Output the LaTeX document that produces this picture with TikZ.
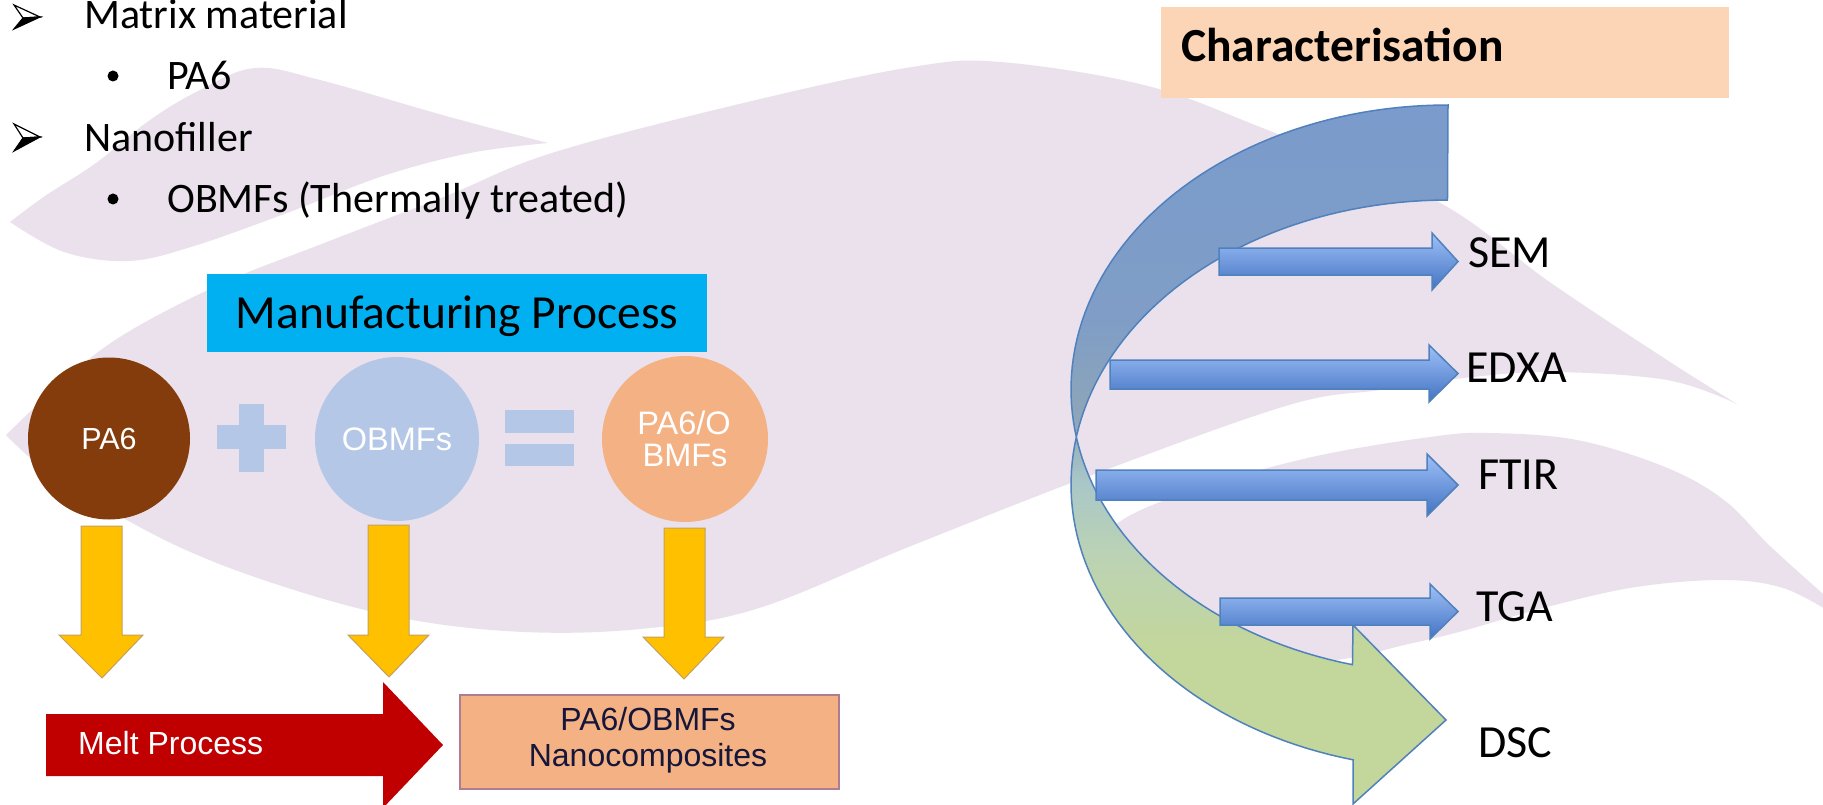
\documentclass[tikz,border=0pt]{standalone}
\usepackage{fontspec}
\setmainfont{Carlito}
\newfontfamily\arialfont{Liberation Sans}
\definecolor{lav}{RGB}{234,225,236}
\definecolor{mpcyan}{HTML}{00B0F0}
\definecolor{peach}{HTML}{FBD5B5}
\definecolor{pabrown}{HTML}{843C0C}
\definecolor{lblue}{HTML}{B4C7E7}
\definecolor{lorange}{HTML}{F4B183}
\definecolor{ayellow}{HTML}{FFC000}
\definecolor{ayline}{RGB}{195,160,95}
\definecolor{ared}{HTML}{C00000}
\definecolor{ncline}{RGB}{175,125,145}
\definecolor{nctext}{RGB}{22,22,58}
\definecolor{bline}{HTML}{4F81BD}
\definecolor{btop}{HTML}{9EC0F8}
\definecolor{bbot}{HTML}{4373C2}
\definecolor{cblue}{HTML}{7A9BCC}
\definecolor{cblueb}{HTML}{7F9DC6}
\definecolor{cgray}{HTML}{8EA6B9}
\definecolor{cmida}{HTML}{A9C7C8}
\definecolor{cmidb}{HTML}{BCD3B3}
\definecolor{cgreen}{HTML}{C3D69B}
\pgfdeclareverticalshading{charshade}{100bp}{color(0bp)=(cgreen); color(36bp)=(cgreen); color(42.5bp)=(cmidb); color(48bp)=(cmida); color(52.5bp)=(cgray); color(60bp)=(cblueb); color(75bp)=(cblue); color(100bp)=(cblue)}
\begin{document}
\begin{tikzpicture}[x=1pt,y=-1pt,
  bgshape/.style={fill=lav, draw=none},
  bultext/.style={anchor=base west, inner sep=0pt, font=\fontsize{42pt}{50pt}\selectfont},
  labtext/.style={anchor=base west, inner sep=0pt, font=\fontsize{46pt}{55pt}\selectfont},
  dotbullet/.style={circle, fill=black, inner sep=0pt, minimum size=11pt},
  arrowwhite/.style={fill=white, draw=black, line width=1.2pt, line join=miter},
  arrowblack/.style={fill=black, draw=black, line width=1.2pt, line join=miter},
  yarrow/.style={fill=ayellow, draw=ayline, line width=1pt},
  barrow/.style={top color=btop, bottom color=bbot, draw=bline, line width=1.5pt},
  ingred/.style={circle, inner sep=0pt, text=white, text depth=0pt},
  symbar/.style={fill=lblue, draw=none},
  whitelab/.style={anchor=base, inner sep=0pt, text=white, font=\arialfont\fontsize{32.5pt}{36pt}\selectfont},
  nclab/.style={anchor=base, inner sep=0pt, text=nctext, font=\arialfont\fontsize{32pt}{36pt}\selectfont},
]
\useasboundingbox (0,0) rectangle (1823,805);
\fill[white] (0,0) rectangle (1823,805);

% ---------- background swooshes ----------
\fill[bgshape] plot[smooth, tension=0.6] coordinates {(10,222) (45,196) (96,163) (150,120) (200,90) (255,68) (320,80) (446,116) (548,143)}
  -- plot[smooth, tension=0.6] coordinates {(548,143) (470,153) (383,176) (287,213) (191,247) (128,261) (64,252) (10,222)} -- cycle;
\fill[bgshape] plot[smooth, tension=0.6] coordinates {(6,435) (70,375) (128,332) (223,283) (319,245) (446,196) (555,152) (756,100) (912,67) (1000,62) (1144,85) (1260,127) (1435,200) (1551,283) (1667,360) (1737,404)}
  -- plot[smooth, tension=0.6] coordinates {(1737,404) (1667,380) (1551,372) (1464,378) (1380,390) (1289,405) (1100,472) (911,546) (756,609) (640,629) (524,632) (407,619) (291,589) (175,545) (58,479) (6,435)} -- cycle;
\fill[bgshape] plot[smooth, tension=0.6] coordinates {(1095,565) (1118,523) (1194,490) (1312,457) (1430,437) (1489,433) (1577,440) (1665,467) (1724,500) (1771,547) (1830,600)}
  -- plot[smooth, tension=0.6] coordinates {(1830,612) (1783,588) (1724,580) (1636,587) (1547,607) (1459,632) (1400,646) (1350,658) (1280,664) (1200,648) (1140,612) (1095,565)} -- cycle;

% ---------- bullet list ----------
\filldraw[arrowwhite] (14,5) -- (40,17) -- (23,18) -- cycle;
\filldraw[arrowblack] (23,18) -- (40,17) -- (14,29) -- cycle;
\node[bultext] (b1) at (84,29) {Matrix material};
\node[dotbullet] (d2) at (113,76) {};
\node[bultext] (b2) at (167,90) {PA6};
\filldraw[arrowwhite] (14,124) -- (40,137) -- (23,138) -- cycle;
\filldraw[arrowblack] (23,138) -- (40,137) -- (14,151) -- cycle;
\node[bultext] (b3) at (84,152) {Nanofiller};
\node[dotbullet] (d4) at (113,199) {};
\node[bultext] (b4) at (167,213) {OBMFs (Thermally treated)};

% ---------- manufacturing process ----------
\node[fill=mpcyan, minimum width=500pt, minimum height=78pt, inner sep=0pt] (mpbox) at (457,313) {};
\node[anchor=base, inner sep=0pt, font=\fontsize{47.5pt}{57pt}\selectfont] (mptext) at (457,328) {Manufacturing Process};

\node[ingred, fill=pabrown, minimum size=162pt, text height=21.8pt, font=\arialfont\fontsize{30.5pt}{34pt}\selectfont] (pa6) at (109,438.5) {PA6};
\fill[symbar] (217,425) rectangle (286,449);
\fill[symbar] (239,404) rectangle (264,472);
\node[ingred, fill=lblue, minimum size=164pt, text height=23.3pt, font=\arialfont\fontsize{32.5pt}{36pt}\selectfont] (obmf) at (397,439) {OBMFs};
\fill[symbar] (505,410) rectangle (574,433);
\fill[symbar] (505,444) rectangle (574,466);
\node[ingred, fill=lorange, minimum size=166pt] (comp) at (685,439) {};
\node[whitelab] (compa) at (684,434) {PA6/O};
\node[whitelab] (compb) at (685,466) {BMFs};

\filldraw[yarrow] (81,526) -- (122,526) -- (122,635) -- (143,635) -- (102,678) -- (59,635) -- (81,635) -- cycle;
\filldraw[yarrow] (368,525) -- (409,525) -- (409,635) -- (429,635) -- (389,677) -- (348,635) -- (368,635) -- cycle;
\filldraw[yarrow] (664,528) -- (705,528) -- (705,637) -- (724,637) -- (684,679) -- (643,637) -- (664,637) -- cycle;

\fill[ared] (46,714) -- (383,714) -- (383,682) -- (443,745) -- (383,808) -- (383,776) -- (46,776) -- cycle;
\node[anchor=base west, inner sep=0pt, text=white, font=\arialfont\fontsize{32pt}{36pt}\selectfont] (melt) at (78,754) {Melt Process};

\node[fill=lorange, draw=ncline, line width=1.2pt, minimum width=379pt, minimum height=94pt, inner sep=0pt] (ncbox) at (649.5,742) {};
\node[nclab] (nc1) at (648,730) {PA6/OBMFs};
\node[nclab] (nc2) at (648,766) {Nanocomposites};

% ---------- characterisation ----------
\node[fill=peach, minimum width=568pt, minimum height=91pt, inner sep=0pt] (charbox) at (1445,52.5) {};
\node[anchor=base west, inner sep=0pt, font=\bfseries\fontsize{47.5pt}{56pt}\selectfont] (chartext) at (1181,62) {Characterisation};

\path[draw=bline, line width=1.5pt, shade, shading=charshade, line join=miter]
  (1448,105) -- plot[domain=0:1, samples=90, variable=\t] ({1448+377*cos(270-165.4*\t)}, {389.5+284.5*sin(270-165.4*\t)})
  -- (1353,625) -- (1446,720) -- (1353,804) -- (1353,759)
  -- plot[domain=0:1, samples=90, variable=\t] ({1448+377*cos(104.6+165.4*\t)}, {484.5+284.5*sin(104.6+165.4*\t)})
  -- cycle;

\filldraw[barrow] (1219,248) -- (1432,248) -- (1432,233) -- (1458,261.5) -- (1432,290) -- (1432,275) -- (1219,275) -- cycle;
\filldraw[barrow] (1110,360) -- (1429,360) -- (1429,345) -- (1458,373.5) -- (1429,402) -- (1429,389) -- (1110,389) -- cycle;
\filldraw[barrow] (1096,470) -- (1427,470) -- (1427,454) -- (1458,485) -- (1427,516) -- (1427,500) -- (1096,500) -- cycle;
\filldraw[barrow] (1220,598) -- (1430,598) -- (1430,584) -- (1458,611.5) -- (1430,639) -- (1430,625) -- (1220,625) -- cycle;

\node[labtext] (sem) at (1468,267) {SEM};
\node[labtext] (edxa) at (1466,382) {EDXA};
\node[labtext] (ftir) at (1478,489) {FTIR};
\node[labtext] (tga) at (1476,621) {TGA};
\node[labtext] (dsc) at (1478,757) {DSC};
\end{tikzpicture}
\end{document}
